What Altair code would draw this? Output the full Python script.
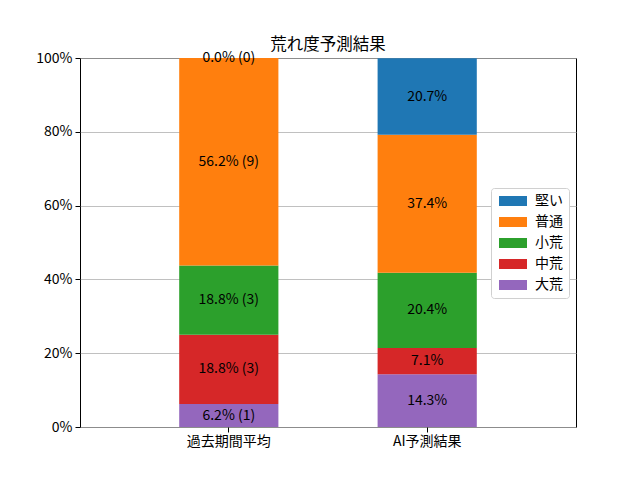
import altair as alt
import pandas as pd

categories = ["過去期間平均", "AI予測結果"]
types = ["堅い", "普通", "小荒", "中荒", "大荒"]
colors = ["#1f77b4", "#ff7f0e", "#2ca02c", "#d62728", "#9467bd"]
stack_order = [4, 3, 2, 1, 0]
past_values = [0.0, 56.2, 18.8, 18.8, 6.2]
past_counts = [0, 9, 3, 3, 1]
ai_values = [20.7, 37.4, 20.4, 7.1, 14.3]

rows = []
for t, v, c, o in zip(types, past_values, past_counts, stack_order):
    rows.append({"cat": categories[0], "type": t, "value": v, "ord": o,
                 "label": f"{v:.1f}% ({c})"})
for t, v, o in zip(types, ai_values, stack_order):
    rows.append({"cat": categories[1], "type": t, "value": v, "ord": o,
                 "label": f"{v:.1f}%"})
df = pd.DataFrame(rows)

FONT = "Noto Sans CJK JP, DejaVu Sans"
FS = 14

base = alt.Chart(df).transform_stack(
    stack="value", groupby=["cat"], as_=["y0", "y1"],
    sort=[alt.SortField("ord", order="ascending")]
).transform_calculate(mid="(datum.y0 + datum.y1) / 2")

x_enc = alt.X("cat:N", sort=categories, title=None,
              scale=alt.Scale(paddingInner=0.5, paddingOuter=0.5),
              axis=alt.Axis(labelAngle=0, domain=False, ticks=True, tickSize=5,
                            tickColor="black", labelColor="black", labelFontSize=FS,
                            labelFont=FONT, labelPadding=2, grid=False))

y_scale = alt.Scale(domain=[0, 100], nice=False)

bars = base.mark_bar().encode(
    x=x_enc,
    y=alt.Y("y0:Q", scale=y_scale, title=None,
            axis=alt.Axis(values=[0, 20, 40, 60, 80, 100], labelExpr="datum.value + '%'",
                          domain=False, tickSize=5, tickColor="black",
                          labelColor="black", labelFontSize=FS, labelFont=FONT,
                          labelPadding=3, grid=True, gridColor="#b0b0b0",
                          gridWidth=0.8)),
    y2="y1:Q",
    color=alt.Color("type:N", scale=alt.Scale(domain=types, range=colors),
                    legend=alt.Legend(title=None, orient="none", legendX=411, legendY=130,
                                      fillColor="white", strokeColor="#d0d0d0",
                                      cornerRadius=3, padding=6,
                                      symbolType="M-2.8,-1L2.8,-1L2.8,1L-2.8,1Z",
                                      symbolSize=100, symbolStrokeWidth=0,
                                      symbolOffset=9,
                                      labelFontSize=FS, labelFont=FONT,
                                      labelColor="black", rowPadding=7,
                                      labelOffset=15)),
    order=alt.Order("ord:Q"),
)

texts = base.mark_text(fontSize=FS, font=FONT, color="black", baseline="middle").encode(
    x=alt.X("cat:N", sort=categories),
    y=alt.Y("mid:Q", scale=y_scale),
    text="label:N",
)

chart = alt.layer(bars, texts).properties(
    width=496, height=369,
    title=alt.TitleParams("荒れ度予測結果", fontSize=16.5, font=FONT, fontWeight="normal",
                          color="black", offset=-2, anchor="middle"),
    autosize=alt.AutoSizeParams(type="none"),
    padding={"left": 72, "top": 50, "right": 50, "bottom": 40},
).configure_view(stroke="black", strokeWidth=1)

chart.save("out.html", embed_options={"renderer": "svg", "actions": False})
